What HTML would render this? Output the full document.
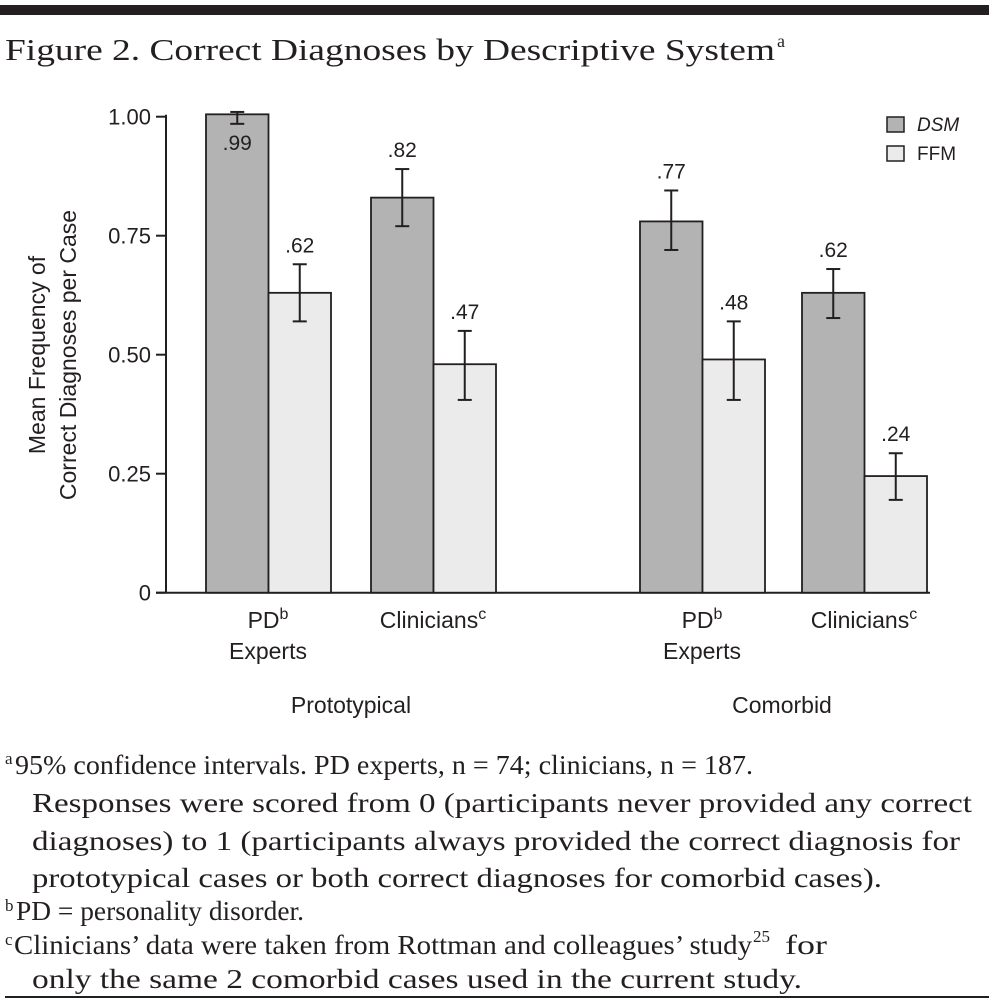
<!DOCTYPE html>
<html><head><meta charset="utf-8"><style>
html,body{margin:0;padding:0;background:#fff;}
svg{display:block;}
.s{font-family:"Liberation Sans",sans-serif;fill:#231f20;}
.r{font-family:"Liberation Serif",serif;fill:#231f20;}
</style></head><body>
<svg width="993" height="1001" viewBox="0 0 993 1001" xmlns="http://www.w3.org/2000/svg">
<rect x="0" y="5" width="989" height="10" fill="#231f20"/>
<text class="r" x="5" y="60" font-size="31" textLength="770" lengthAdjust="spacingAndGlyphs">Figure 2. Correct Diagnoses by Descriptive System</text>
<text class="r" x="777" y="47" font-size="18">a</text>
<g id="chart"></g>
<g>
<text class="r" x="5" y="764" font-size="17">a</text>
<text class="r" x="15" y="774" font-size="27" textLength="738" lengthAdjust="spacingAndGlyphs">95% confidence intervals. PD experts, n = 74; clinicians, n = 187.</text>
<text class="r" x="32" y="812" font-size="27" textLength="940" lengthAdjust="spacingAndGlyphs">Responses were scored from 0 (participants never provided any correct</text>
<text class="r" x="32" y="850" font-size="27" textLength="928" lengthAdjust="spacingAndGlyphs">diagnoses) to 1 (participants always provided the correct diagnosis for</text>
<text class="r" x="32" y="887" font-size="27" textLength="850" lengthAdjust="spacingAndGlyphs">prototypical cases or both correct diagnoses for comorbid cases).</text>
<text class="r" x="5" y="911" font-size="17">b</text>
<text class="r" x="16" y="920" font-size="27" textLength="288" lengthAdjust="spacingAndGlyphs">PD = personality disorder.</text>
<text class="r" x="5" y="945" font-size="17">c</text>
<text class="r" x="14" y="954" font-size="27" textLength="738" lengthAdjust="spacingAndGlyphs">Clinicians’ data were taken from Rottman and colleagues’ study</text>
<text class="r" x="753" y="942" font-size="17">25</text>
<text class="r" x="785" y="954" font-size="27" textLength="42" lengthAdjust="spacingAndGlyphs">for</text>
<text class="r" x="32" y="988" font-size="27" textLength="770" lengthAdjust="spacingAndGlyphs">only the same 2 comorbid cases used in the current study.</text>
</g>
<line x1="5" y1="997" x2="989" y2="997" stroke="#231f20" stroke-width="2"/>
</svg>
<script>
const categories=["PD Experts Prototypical","Clinicians Prototypical","PD Experts Comorbid","Clinicians Comorbid"];
const dsmValues=[1.005,0.83,0.78,0.63];
const ffmValues=[0.63,0.48,0.49,0.245];
const dsmLow=[0.985,0.77,0.72,0.577];
const dsmHigh=[1.01,0.89,0.845,0.68];
const ffmLow=[0.57,0.405,0.405,0.195];
const ffmHigh=[0.69,0.55,0.57,0.293];
const dsmLabels=[".99",".82",".77",".62"];
const ffmLabels=[".62",".47",".48",".24"];
const tickValues=[0,0.25,0.5,0.75,1.0];
const tickLabels=["0","0.25","0.50","0.75","1.00"];
(function(){
const NS="http://www.w3.org/2000/svg";
const g=document.getElementById("chart");
const y0=592.7,y1=116.7;
const y=v=>y0-(y0-y1)*v;
const groupX=[206,371,640,802];
const bw=62.5;
function el(t,a,txt){const e=document.createElementNS(NS,t);for(const k in a)e.setAttribute(k,a[k]);if(txt!=null)e.textContent=txt;g.appendChild(e);return e;}
let e=el("line",{x1:166,y1:y0,x2:166,y2:y1-2,stroke:"#231f20","stroke-width":2});


e=el("line",{x1:156,y1:y0,x2:930,y2:y0,stroke:"#231f20","stroke-width":2});


tickValues.forEach((v,i)=>{
 let t=el("line",{x1:156,y1:y(v),x2:166,y2:y(v),stroke:"#231f20","stroke-width":2});
 
 
 let l=el("text",{class:"s",x:151,y:y(v)+8,"font-size":22,"text-anchor":"end"},tickLabels[i]);
 
 
});
function bar(x,v,lo,hi,lab,fill,name,labelInside){
 let r=el("rect",{x:x,y:y(v),width:bw,height:y0-y(v),fill:fill,stroke:"#231f20","stroke-width":1.8});
 
 
 const cx=x+bw/2;
 el("line",{x1:cx,y1:y(lo),x2:cx,y2:y(hi),stroke:"#231f20","stroke-width":2});
 el("line",{x1:cx-7,y1:y(lo),x2:cx+7,y2:y(lo),stroke:"#231f20","stroke-width":2});
 el("line",{x1:cx-7,y1:y(hi),x2:cx+7,y2:y(hi),stroke:"#231f20","stroke-width":2});
 let ty=labelInside?y(lo)+26:y(hi)-12;
 let t=el("text",{class:"s",x:cx,y:ty,"font-size":21,"text-anchor":"middle"},lab);
 
 
}
categories.forEach((c,i)=>{
 bar(groupX[i],dsmValues[i],dsmLow[i],dsmHigh[i],dsmLabels[i],"#b3b3b3","bar-dsm-"+i,dsmValues[i]>0.95);
 bar(groupX[i]+bw,ffmValues[i],ffmLow[i],ffmHigh[i],ffmLabels[i],"#ebebeb","bar-ffm-"+i,false);
});
const xl=[["PD","b","Experts",268],["Clinicians","c",null,433],["PD","b","Experts",702],["Clinicians","c",null,864]];
xl.forEach(a=>{
 let t=el("text",{class:"s",x:a[3],y:628,"font-size":23,"text-anchor":"middle"});
 
 
 const s1=document.createElementNS(NS,"tspan");s1.textContent=a[0];t.appendChild(s1);
 const s2=document.createElementNS(NS,"tspan");s2.setAttribute("dy","-9");s2.setAttribute("font-size","16");s2.textContent=a[1];t.appendChild(s2);
 if(a[2]){let t2=el("text",{class:"s",x:a[3],y:659,"font-size":23,"text-anchor":"middle"},a[2]);}
});
let gp=el("text",{class:"s",x:351,y:713,"font-size":23,"text-anchor":"middle"},"Prototypical");


gp=el("text",{class:"s",x:782,y:713,"font-size":23,"text-anchor":"middle"},"Comorbid");


let yt=el("text",{class:"s",x:0,y:0,"font-size":23,"text-anchor":"middle",transform:"translate(45,355) rotate(-90)"},"Mean Frequency of");


yt=el("text",{class:"s",x:0,y:0,"font-size":23,"text-anchor":"middle",transform:"translate(76,355) rotate(-90)"},"Correct Diagnoses per Case");


let lg=el("rect",{x:887,y:117,width:17,height:15,fill:"#b3b3b3",stroke:"#231f20","stroke-width":1.5});


lg=el("text",{class:"s",x:917,y:131,"font-size":19,"font-style":"italic"},"DSM");


lg=el("rect",{x:887,y:146,width:17,height:15,fill:"#ebebeb",stroke:"#231f20","stroke-width":1.5});


lg=el("text",{class:"s",x:917,y:160,"font-size":19},"FFM");


})();
</script>
</body></html>
